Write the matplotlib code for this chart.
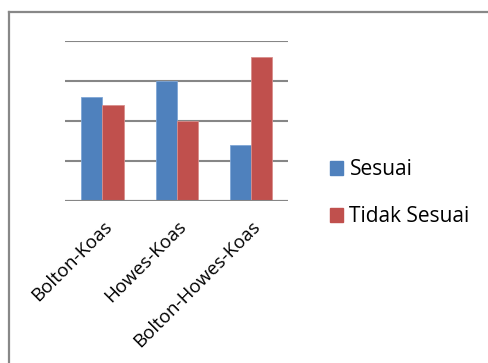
import numpy as np
import matplotlib.pyplot as plt
from matplotlib.patches import Rectangle
from matplotlib.lines import Line2D

# data (25 per group)
categories = ['Bolton-Koas', 'Howes-Koas', 'Bolton-Howes-Koas']
sesuai = [13, 15, 7]
tidak_sesuai = [12, 10, 18]

blue = '#4F81BD'
red = '#C0504D'
grid_col = '#868686'

plt.rcParams['font.family'] = ['Open Sans', 'DejaVu Sans']

fig = plt.figure(figsize=(4.89, 3.63), dpi=100)
ax = fig.add_axes([0.1336, 0.4463, 0.456, 0.44])

x = np.arange(len(categories))
w = 0.283
ax.bar(x - w / 2, sesuai, w, color=blue, edgecolor='#7FA6D6', linewidth=0.6, label='Sesuai', zorder=3)
ax.bar(x + w / 2, tidak_sesuai, w, color=red, edgecolor='#D88E8C', linewidth=0.6, label='Tidak Sesuai', zorder=3)

ax.set_xlim(-0.5, 2.5)
ax.set_ylim(0, 20)
ax.set_yticks([0, 5, 10, 15, 20])
ax.set_yticklabels([])
ax.yaxis.grid(True, color=grid_col, linewidth=1.5)
ax.tick_params(axis='both', length=0)
for s in ax.spines.values():
    s.set_visible(False)
ax.axhline(0, color=grid_col, linewidth=1.5, zorder=4)

ax.set_xticks(x)
ax.set_xticklabels(categories, rotation=45, ha='right', rotation_mode='anchor', fontsize=13.5)
ax.tick_params(axis='x', pad=12)

leg = fig.legend(handles=[Rectangle((0, 0), 1, 1, color=blue), Rectangle((0, 0), 1, 1, color=red)],
                 labels=['Sesuai', 'Tidak Sesuai'], loc='center left', bbox_to_anchor=(0.675, 0.468),
                 frameon=False, fontsize=15, handlelength=0.63, handleheight=0.63, handletextpad=0.3,
                 labelspacing=1.25, borderpad=0, borderaxespad=0)

# chart area border (top and left visible)
fig.add_artist(Line2D([8.5 / 489, 8.5 / 489], [0, 1 - 12 / 363], color='#888888', linewidth=1.6))
fig.add_artist(Line2D([8.5 / 489, 1], [1 - 12 / 363, 1 - 12 / 363], color='#888888', linewidth=1.6))

fig.savefig('out.png', dpi=100)
